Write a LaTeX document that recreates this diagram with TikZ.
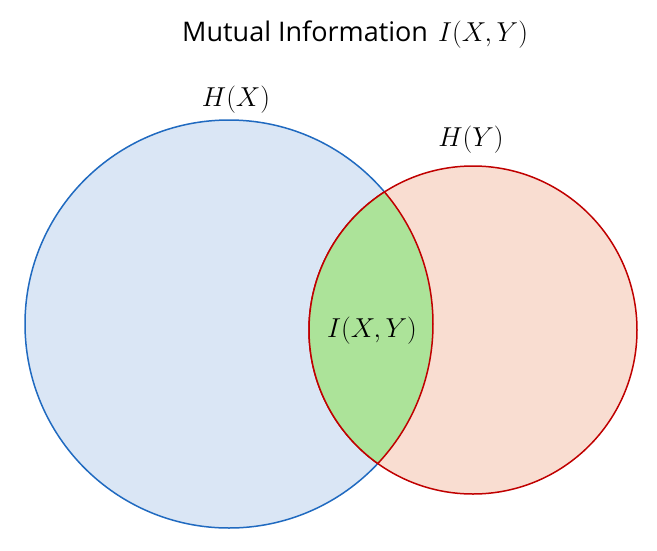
\documentclass[tikz,border=0pt]{standalone}
\usepackage{graphicx}
\usepackage{fontspec}
\setmainfont{Open Sans}
\definecolor{bluestroke}{RGB}{32,106,192}
\definecolor{bluefill}{RGB}{218,230,245}
\definecolor{redstroke}{RGB}{192,0,0}
\definecolor{redfill}{RGB}{249,221,209}
\definecolor{greenfill}{RGB}{172,227,153}
\newcommand{\bigmath}[1]{\scalebox{1.1}{$#1$}}
\begin{document}
\begin{tikzpicture}[x=1pt,y=-1pt,
  lbl/.style={inner sep=0pt, font=\fontsize{24.88}{30}\selectfont},
  ttl/.style={inner sep=0pt, font=\fontsize{27}{30}\selectfont}]
\useasboundingbox (0,0) rectangle (657,550);
\def\ax{229}\def\ay{324}\def\ar{204}
\def\bx{473}\def\by{330}\def\br{164}
\coordinate (ca) at (\ax,\ay);
\coordinate (cb) at (\bx,\by);
% H(X) circle
\filldraw[fill=bluefill, draw=bluestroke, line width=1.5pt] (ca) circle (\ar);
% H(Y) circle
\filldraw[fill=redfill, draw=redstroke, line width=1.5pt] (cb) circle (\br);
% intersection
\begin{scope}
  \clip (ca) circle (\ar);
  \fill[greenfill] (cb) circle (\br);
  \draw[redstroke, line width=1.5pt] (cb) circle (\br);
\end{scope}
\begin{scope}
  \clip (cb) circle (\br);
  \draw[redstroke, line width=1.5pt] (ca) circle (\ar);
\end{scope}
% labels
\node[ttl, anchor=base west] (title) at (182,41) {Mutual Information};
\node[lbl, anchor=base west] (titlemath) at (438,41) {\bigmath{I(X,Y)}};
\node[lbl, anchor=base] (hx) at (236,106) {\bigmath{H(X)}};
\node[lbl, anchor=base] (hy) at (471,146) {\bigmath{H(Y)}};
\node[lbl] (ixy) at (372,331) {\bigmath{I(X,Y)}};
\end{tikzpicture}
\end{document}
